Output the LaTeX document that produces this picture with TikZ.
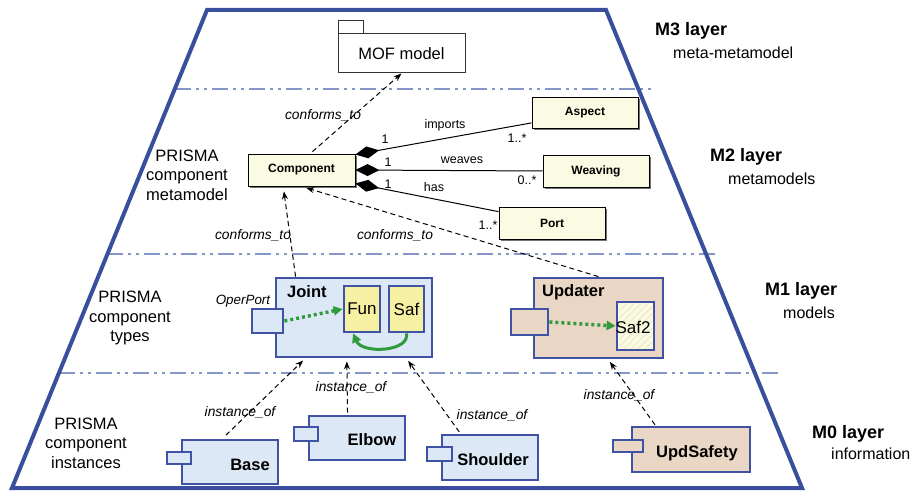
\documentclass[tikz,border=0pt]{standalone}
\usepackage{fontspec}
\setmainfont{Liberation Sans}
\usetikzlibrary{arrows.meta,shadows,patterns.meta}
\definecolor{trapc}{HTML}{3A4E9E}
\definecolor{ddc}{HTML}{8597C9}
\definecolor{bbc}{HTML}{3F52A4}
\definecolor{lbc}{HTML}{DCE8F6}
\definecolor{tanc}{HTML}{E9D6C4}
\definecolor{yelc}{HTML}{F6F0A2}
\definecolor{umlc}{HTML}{FBFAE3}
\definecolor{grnc}{HTML}{2F9B3B}
\newcommand{\fsz}[2]{\fontsize{#1}{#2}\selectfont}
\tikzset{
  umlbox/.style={draw=black, line width=0.9pt, fill=umlc, minimum width=106pt, minimum height=31pt, inner sep=0pt,
    font=\fsz{12}{14}\bfseries, drop shadow={shadow xshift=2pt, shadow yshift=-2pt, fill=black!55, opacity=1}},
  bluebox/.style={draw=bbc, line width=2.8pt, inner sep=0pt},
  ddline/.style={ddc, line width=1.8pt, dash pattern=on 16pt off 5pt on 3pt off 5pt on 3pt off 5pt},
  conn/.style={line width=1pt, dash pattern=on 5pt off 3.5pt, -{Stealth[length=8pt,width=6pt]}},
  gdot/.style={grnc, line width=3.4pt, dash pattern=on 3pt off 3pt, -{Triangle[length=9pt,width=9pt]}},
  comp/.style={-, line width=1pt, {Diamond[length=24pt,width=12pt]}-},
  lbl/.style={inner sep=0pt, font=\fsz{12.5}{14}},
  itl/.style={inner sep=0pt, font=\fsz{13.8}{16}\itshape},
  side/.style={inner sep=0pt, align=center, font=\fsz{16.5}{19.5}},
  lay/.style={inner sep=0pt, anchor=west, font=\fsz{18}{20}\bfseries},
  laysub/.style={inner sep=0pt, anchor=west, font=\fsz{16}{18}},
  btxt/.style={inner sep=0pt, font=\fsz{16.5}{18}\bfseries},
}
\begin{document}
\begin{tikzpicture}[x=1pt,y=-1pt]
\useasboundingbox (0,0) rectangle (919,492);
% layer separators
\draw[ddline] (175,89) -- (655,89);
\draw[ddline] (107,254) -- (717,254);
\draw[ddline] (59,373) -- (780,373);
% trapezoid
\draw[trapc, line width=4pt, line join=miter] (207,10) -- (606,10) -- (802,488) -- (12,488) -- cycle;

% M3
\node[draw=black!80, line width=1pt, minimum width=25pt, minimum height=13pt, inner sep=0pt] (moftab) at (350.5,27.5) {};
\node[draw=black!80, line width=1pt, fill=white, minimum width=127pt, minimum height=39pt, inner sep=0pt, font=\fsz{16.5}{18}] (MOF) at (401.5,53.5) {MOF model};

% M2
\node[umlbox, minimum width=107pt, minimum height=32pt] (Component) at (301.5,170) {Component};
\node[umlbox] (Aspect) at (585,112.5) {Aspect};
\node[umlbox, minimum height=32pt] (Weaving) at (596,171) {Weaving};
\node[umlbox, minimum height=32pt] (Port) at (552,223) {Port};

\draw[comp] (Component.16) -- (Aspect.191);
\draw[comp] (Component.east) -- (Weaving.west);
\draw[comp] (Component.346) -- (Port.168);

\node[lbl] (l1) at (445,125) {imports};
\node[lbl] (l2) at (385,139) {1};
\node[lbl] (l3) at (517,138) {1..*};
\node[lbl] (l4) at (462,160) {weaves};
\node[lbl] (l5) at (388,162) {1};
\node[lbl] (l6) at (527,180) {0..*};
\node[lbl] (l7) at (434,187) {has};
\node[lbl] (l8) at (388,184) {1};
\node[lbl] (l9) at (488,225) {1..*};

% M1 Joint
\node[bluebox, fill=lbc, minimum width=156pt, minimum height=79pt] (Joint) at (354,317.5) {};
\node[btxt, anchor=west] (jointlbl) at (287,292) {Joint};
\node[bluebox, fill=lbc, minimum width=31pt, minimum height=24pt] (JPort) at (267.5,321) {};
\node[bluebox, fill=yelc, minimum width=36pt, minimum height=46pt, font=\fsz{17}{18}] (Fun) at (362,309) {Fun};
\node[bluebox, fill=yelc, minimum width=35pt, minimum height=46pt, font=\fsz{17}{18}] (Saf) at (406.5,309) {Saf};
\node[itl, font=\fsz{13.4}{15}\itshape] (operport) at (243,301) {OperPort};
\draw[gdot] (JPort.east) -- (Fun.west);
\draw[grnc, line width=3pt, -{Triangle[length=9pt,width=9pt]}] (Saf.south) .. controls (410,352) and (362,354) .. (Fun.250);

% M1 Updater
\node[bluebox, fill=tanc, minimum width=129pt, minimum height=80pt] (Updater) at (598.5,318) {};
\node[btxt, anchor=west] (updlbl) at (542,292) {Updater};
\node[bluebox, fill=tanc, minimum width=37pt, minimum height=26pt] (UPort) at (529.5,322) {};
\node[bluebox, fill=umlc, minimum width=37pt, minimum height=48pt] (Saf2) at (635.5,326) {};
\fill[pattern={Lines[angle=45,distance=5pt,line width=0.8pt]}, pattern color=yelc!90!black!60] (619,304) rectangle (652,348);
\draw[bbc, line width=2.8pt] (617,302) rectangle (654,350);
\node[inner sep=0pt, font=\fsz{17}{18}] (saf2lbl) at (633,327) {Saf2};
\draw[gdot] (UPort.east) -- (Saf2.west);

% conforms_to
\draw[conn, shorten <=3pt] (Component.62) -- (MOF.south);
\draw[conn, shorten >=5pt] (Joint.145) -- (Component.222);
\draw[conn, shorten >=5pt] (Updater.north) -- (Component.south);
\node[itl] (c1) at (323,115) {conforms\_to};
\node[itl] (c2) at (253,235) {conforms\_to};
\node[itl] (c3) at (395,235) {conforms\_to};

% M0
\node[bluebox, fill=lbc, minimum width=96pt, minimum height=44pt] (Base) at (230,462) {};
\node[bluebox, fill=lbc, minimum width=24pt, minimum height=12pt] (Basetab) at (179,458) {};
\node[btxt] (basel) at (250,465) {Base};
\node[bluebox, fill=lbc, minimum width=96pt, minimum height=44pt] (Elbow) at (357,438) {};
\node[bluebox, fill=lbc, minimum width=24pt, minimum height=14pt] (Elbowtab) at (306,434) {};
\node[btxt] (elbowl) at (372,440) {Elbow};
\node[bluebox, fill=lbc, minimum width=96pt, minimum height=45pt] (Shoulder) at (490,457.5) {};
\node[bluebox, fill=lbc, minimum width=25pt, minimum height=14pt] (Shouldertab) at (439.5,454) {};
\node[btxt] (shoulderl) at (493,460) {Shoulder};
\node[bluebox, fill=tanc, minimum width=118pt, minimum height=45pt] (UpdSafety) at (691,449.5) {};
\node[bluebox, fill=tanc, minimum width=30pt, minimum height=12pt] (UpdSafetytab) at (628,446) {};
\node[btxt] (updsl) at (697,453) {UpdSafety};

\draw[conn, shorten <=5pt, shorten >=3pt] (Base.108) -- (Joint.220);
\draw[conn, shorten <=2pt, shorten >=3pt] (Elbow.112) -- (Joint.260);
\draw[conn, shorten <=2pt, shorten >=3pt] (Shoulder.141) -- (Joint.322);
\draw[conn, shorten <=1pt, shorten >=3pt] (UpdSafety.146) -- (Updater.283);
\node[itl] (i1) at (240,412) {instance\_of};
\node[itl] (i2) at (351,387) {instance\_of};
\node[itl] (i3) at (492,415) {instance\_of};
\node[itl] (i4) at (619,395) {instance\_of};

% side labels
\node[side] (s2) at (187,175) {PRISMA\\component\\metamodel};
\node[side] (s1) at (130,318) {PRISMA\\component\\types};
\node[side] (s0) at (86,443) {PRISMA\\component\\instances};

\node[lay] (m3) at (655,31) {M3 layer};
\node[laysub] (m3s) at (673,53) {meta-metamodel};
\node[lay] (m2) at (710,157) {M2 layer};
\node[laysub] (m2s) at (728,179) {metamodels};
\node[lay] (m1) at (765,291) {M1 layer};
\node[laysub] (m1s) at (783,313) {models};
\node[lay] (m0) at (812,434) {M0 layer};
\node[laysub] (m0s) at (831,454) {information};
\end{tikzpicture}
\end{document}
